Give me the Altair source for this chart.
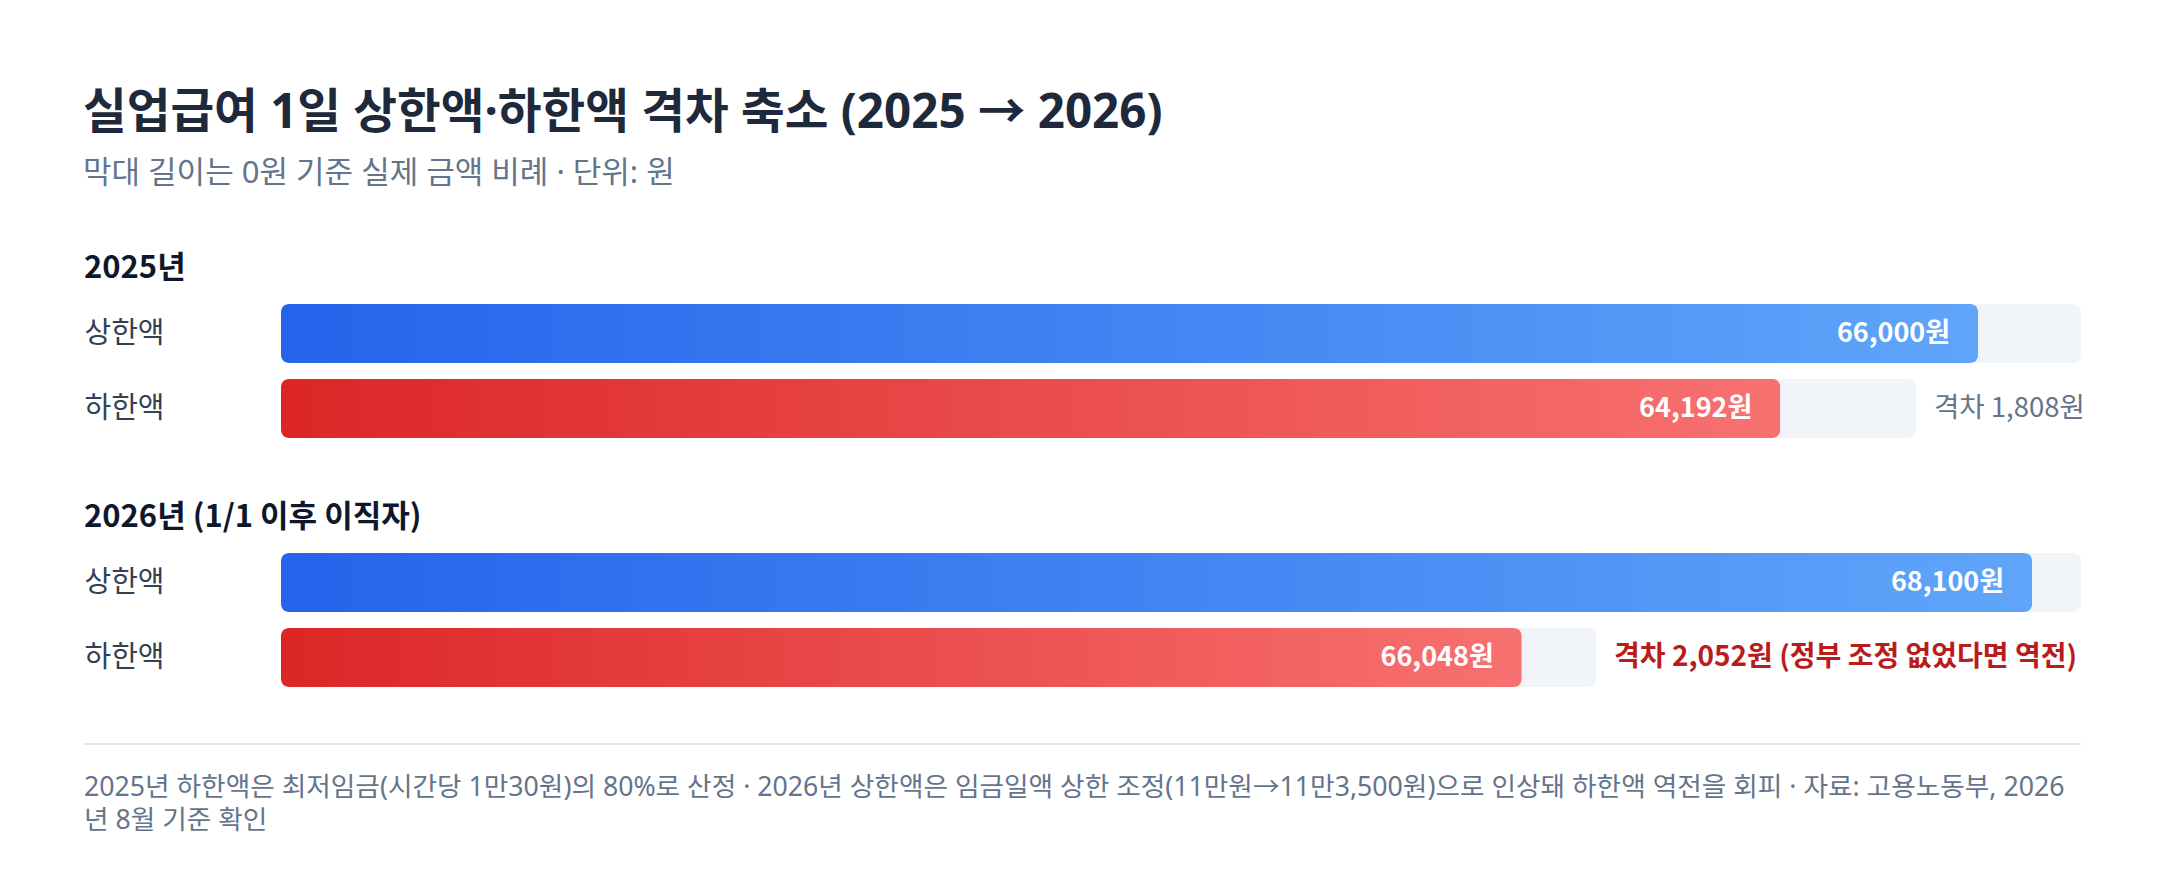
import altair as alt
import pandas as pd

FONT = "Noto Sans CJK KR"
MIX_FONT = "Noto Sans, Noto Sans CJK KR"

# ---- data ----
years = ["2025", "2025", "2026", "2026"]
kinds = ["상한액", "하한액", "상한액", "하한액"]
values = [66000, 64192, 68100, 66048]
value_labels = ["66,000원", "64,192원", "68,100원", "66,048원"]
gap_labels = ["", "격차 1,808원", "", "격차 2,052원 (정부 조정 없었다면 역전)"]
SCALE_MAX = 70000
section_titles = ["2025년", "2026년 (1/1 이후 이직자)"]
TITLE = "실업급여 1일 상한액·하한액 격차 축소 (2025 → 2026)"
SUBTITLE = "막대 길이는 0원 기준 실제 금액 비례 · 단위: 원"
footer_lines = [
    "2025년 하한액은 최저임금(시간당 1만30원)의 80%로 산정 · 2026년 상한액은 임금일액 상한 조정(11만원→11만3,500원)으로 인상돼 하한액 역전을 회피 · 자료: 고용노동부, 2026",
    "년 8월 기준 확인",
]

LABEL_COL = 197
TRACK_W = 1800

BLUE = alt.Gradient(gradient="linear", x1=0, x2=1, y1=0, y2=0,
                    stops=[alt.GradientStop(color="#2563eb", offset=0),
                           alt.GradientStop(color="#60a5fa", offset=1)])
RED = alt.Gradient(gradient="linear", x1=0, x2=1, y1=0, y2=0,
                   stops=[alt.GradientStop(color="#dc2626", offset=0),
                          alt.GradientStop(color="#f87171", offset=1)])


def row_chart(i, width, title=None, strong_gap=False):
    df = pd.DataFrame({
        "year": [years[i]], "kind": [kinds[i]], "value": [values[i]],
        "label": [value_labels[i]], "gap": [gap_labels[i]], "track": [SCALE_MAX],
    })
    xs = alt.Scale(domain=[0, SCALE_MAX], nice=False, zero=True)
    y = alt.Y("kind:N", title=None,
              scale=alt.Scale(paddingInner=0, paddingOuter=0),
              axis=alt.Axis(domain=False, ticks=False, tickSize=0, grid=False,
                            labelAlign="left", labelPadding=LABEL_COL, labelFontSize=29,
                            labelColor="#334155", labelFont=FONT, labelBaseline="middle"))
    base = alt.Chart(df)
    track = base.mark_bar(color="#f1f5f9", cornerRadius=8).encode(
        x=alt.X("track:Q", scale=xs, axis=None), y=y)
    bar = base.mark_bar(color=BLUE if kinds[i] == "상한액" else RED, cornerRadius=8).encode(
        x=alt.X("value:Q", scale=xs, axis=None), y=y)
    lab = base.mark_text(align="right", baseline="middle", dx=-28, color="white",
                         fontWeight="bold", fontSize=27, font=FONT).encode(
        x=alt.X("value:Q", scale=xs, axis=None), y=y, text="label:N")
    layers = [track, bar, lab]
    if gap_labels[i]:
        gap = base.mark_text(align="left", baseline="middle", dx=18,
                             color="#b91c1c" if strong_gap else "#64748b",
                             fontWeight="bold" if strong_gap else "normal",
                             fontSize=28 if strong_gap else 27.5, font=FONT).encode(
            x=alt.X("track:Q", scale=xs, axis=None), y=y, text="gap:N")
        layers.append(gap)
    ch = alt.layer(*layers).properties(width=width, height=59)
    if title:
        ch = ch.properties(title=alt.TitleParams(
            title, anchor="start", frame="bounds", fontSize=31, fontWeight="bold",
            color="#0f172a", font=FONT, offset=19))
    return ch


sec1 = alt.vconcat(row_chart(0, TRACK_W, section_titles[0]),
                   row_chart(1, 1635), spacing=16)
sec2 = alt.vconcat(row_chart(2, TRACK_W, section_titles[1]),
                   row_chart(3, 1315, strong_gap=True), spacing=16)

fdf = pd.DataFrame({"text": ["\n".join(footer_lines)]})
fbase = alt.Chart(fdf)
rule = fbase.mark_rule(color="#e2e8f0", strokeWidth=2).encode(
    x=alt.value(-LABEL_COL), x2=alt.value(TRACK_W), y=alt.value(0))
ftext = fbase.mark_text(align="left", baseline="top", lineBreak="\n", lineHeight=33,
                        fontSize=26.7, color="#64748b", font=MIX_FONT).encode(
    x=alt.value(-LABEL_COL), y=alt.value(31), text="text:N")
footer = alt.layer(rule, ftext).properties(width=TRACK_W, height=90)

top = alt.vconcat(sec1, sec2, spacing=64)

chart = alt.vconcat(top, footer, spacing=56).properties(
    title=alt.TitleParams(TITLE, subtitle=SUBTITLE, anchor="start", fontSize=47.5,
                          fontWeight="bold", color="#1e293b", font=MIX_FONT,
                          subtitleFont=MIX_FONT, subtitleFontSize=31,
                          subtitleColor="#64748b", subtitlePadding=22, offset=64),
    padding={"left": 75, "top": 81, "right": 20, "bottom": 10},
    background="white",
).configure_view(strokeWidth=0)

chart.save("out.html", embed_options={"renderer": "svg", "actions": False})
